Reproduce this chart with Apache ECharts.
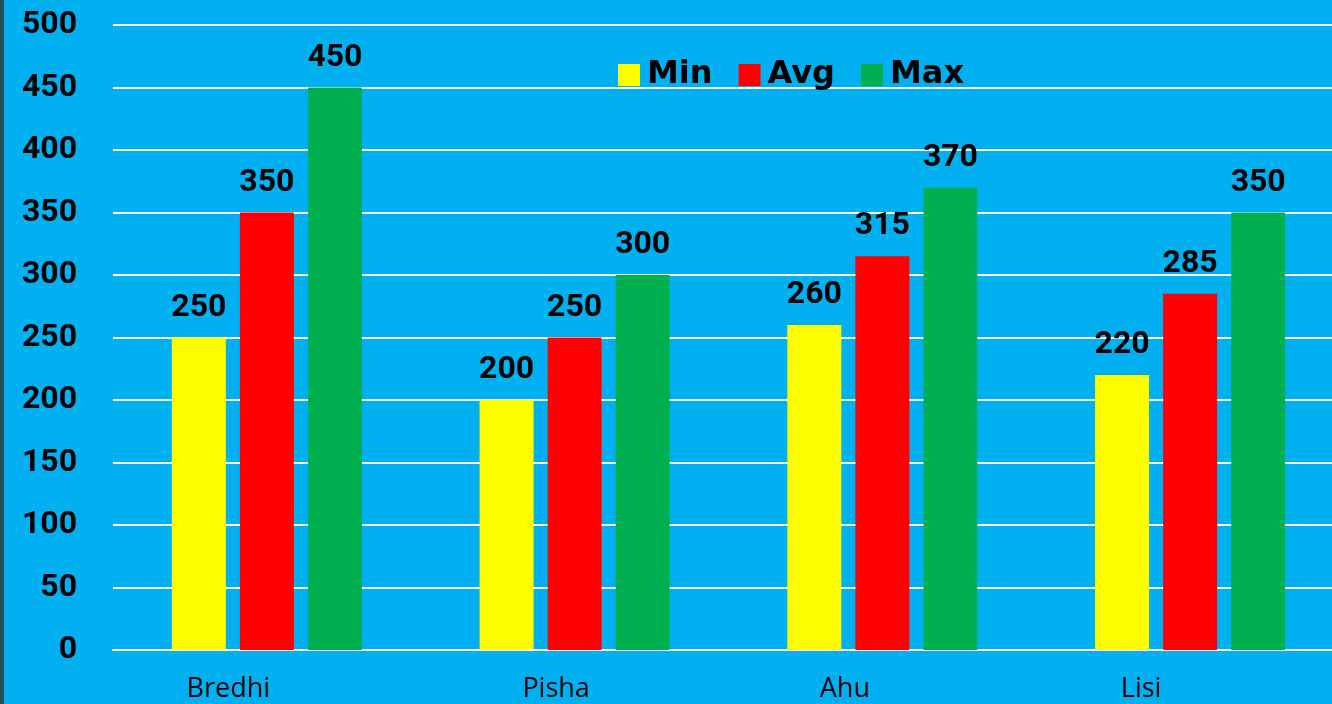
<!DOCTYPE html>
<html><head><meta charset="utf-8">
<script src="https://cdn.jsdelivr.net/npm/echarts@6/dist/echarts.min.js"></script>
<style>html,body{margin:0;padding:0;background:#00B0F0;overflow:hidden}#c{width:1344px;height:704px}</style>
</head><body><div id="c"></div>
<script>
const categories = ['Bredhi', 'Pisha', 'Ahu', 'Lisi'];
const minValues = [250, 200, 260, 220];
const avgValues = [350, 250, 315, 285];
const maxValues = [450, 300, 370, 350];
const yTicks = [0, 50, 100, 150, 200, 250, 300, 350, 400, 450, 500];

const chart = echarts.init(document.getElementById('c'));
const numFont = 'Roboto';
const labelStyle = {show: true, position: 'top', distance: 14, color: '#000', fontFamily: numFont, fontWeight: 'bold', fontSize: 32};
function bar(name, data, color) {
  return {name, type: 'bar', data, barWidth: 54, barGap: '26%', itemStyle: {color}, label: labelStyle};
}
const catText = {color: '#000', fontFamily: 'Open Sans', fontSize: 27};
const labelShift = [77, 37, 75, 98];
const rich = {};
labelShift.forEach((s, i) => { rich['c' + i] = Object.assign({padding: [0, s, 0, 0]}, catText); });
chart.setOption({
  backgroundColor: '#00B0F0',
  animation: false,
  graphic: [{type: 'rect', shape: {x: 0, y: 0, width: 4, height: 704}, style: {fill: '#1F4E5C'}}],
  legend: {
    top: 54, left: 613, itemWidth: 22, itemHeight: 22, itemGap: 26, icon: 'rect',
    textStyle: {fontFamily: 'DejaVu Sans', fontSize: 32, fontWeight: 'bold', color: '#000', padding: [0, 0, 0, 2]},
    data: ['Min', 'Avg', 'Max']
  },
  grid: {left: 113, right: 0, top: 25, bottom: 54, containLabel: false},
  xAxis: {
    type: 'category', data: categories,
    axisLine: {lineStyle: {color: '#fff', width: 2}},
    axisTick: {show: false},
    axisLabel: {margin: 26, formatter: (v, i) => '{c' + i + '|' + v + '}', rich}
  },
  yAxis: {
    type: 'value', min: yTicks[0], max: yTicks[yTicks.length - 1], interval: 50,
    axisLine: {show: false}, axisTick: {show: false},
    splitLine: {lineStyle: {color: '#fff', width: 2}},
    axisLabel: {color: '#000', fontFamily: numFont, fontWeight: 'bold', fontSize: 32, margin: 36}
  },
  series: [bar('Min', minValues, '#FFFF00'), bar('Avg', avgValues, '#FF0000'), bar('Max', maxValues, '#00B050')]
});
</script></body></html>
